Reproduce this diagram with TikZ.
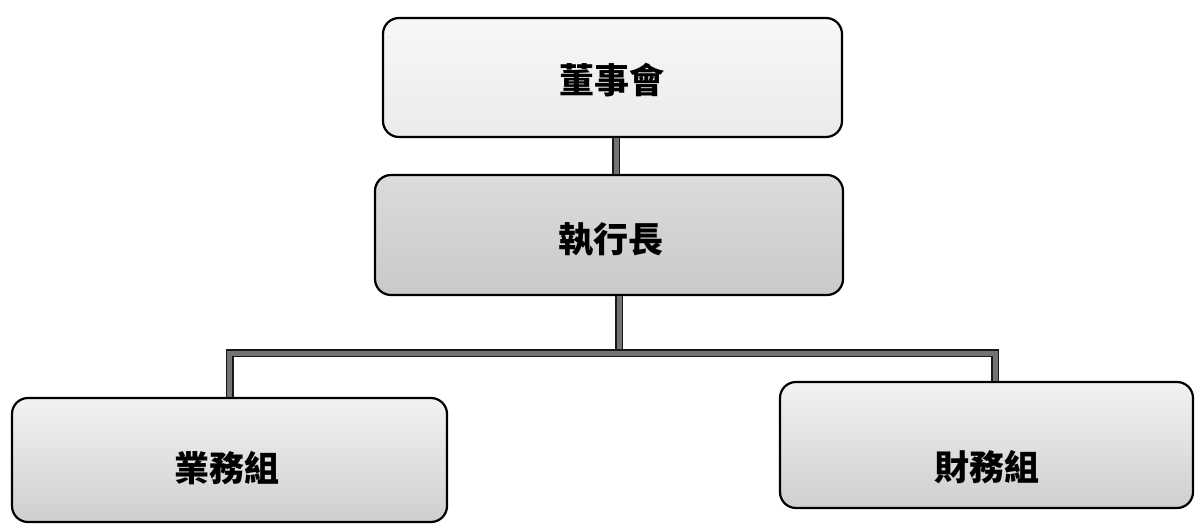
\documentclass[tikz,border=0pt]{standalone}
\usepackage{fontspec}
\newfontfamily\cjk{Noto Sans CJK TC}
\begin{document}
\begin{tikzpicture}[x=1pt,y=1pt,
  box/.style={draw=black, line width=2.2pt, rounded corners=16pt, inner sep=0pt, outer sep=0pt},
  light/.style={box, top color=gray!6, bottom color=gray!16},
  dark/.style={box, top color=gray!28, bottom color=gray!42},
  grad/.style={box, top color=gray!10, bottom color=gray!38},
  lbl/.style={font=\cjk\bfseries\fontsize{35}{40}\selectfont, text=black, inner sep=0pt},
  conn/.style={draw=black!90, line width=1.5pt, double=black!55, double distance=5pt, line join=miter}]
\useasboundingbox (0,0) rectangle (1195,-525);
% connectors (drawn first, boxes cover their ends)
\coordinate (hub) at (619,-353);
% boxes
\node[light, minimum width=459pt, minimum height=119pt] (dsh) at (612.5,-77.5) {};
\node[dark,  minimum width=468pt, minimum height=120pt] (ceo) at (609,-235) {};
\node[grad,  minimum width=435pt, minimum height=124pt] (yw)  at (229.5,-460) {};
\node[grad,  minimum width=413pt, minimum height=126pt] (cw)  at (986.5,-445) {};
% connectors
\draw[conn] ([xshift=3.5pt,yshift=-1pt]dsh.south) -- ([xshift=3.5pt,yshift=1pt]dsh.south |- ceo.north);
\draw[conn] ([xshift=10pt,yshift=-1pt]ceo.south) -- (hub);
\draw[conn] (hub) -| ([yshift=1pt]yw.north);
\draw[conn] (hub) -| ([xshift=8.5pt,yshift=1pt]cw.north);
% labels
\node[lbl] (t1) at (612,-80) {董事會};
\node[lbl] (t2) at (611,-240) {執行長};
\node[lbl] (t3) at (227,-468) {業務組};
\node[lbl] (t4) at (987,-467) {財務組};
\end{tikzpicture}
\end{document}
